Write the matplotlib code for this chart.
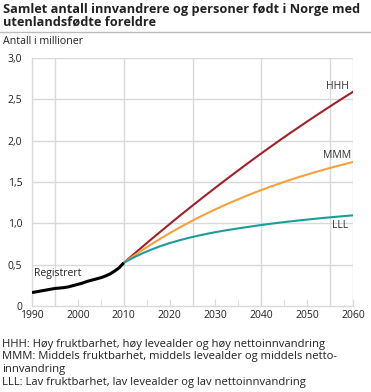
import matplotlib
matplotlib.use("Agg")
import matplotlib.pyplot as plt
from matplotlib.lines import Line2D

plt.rcParams['font.family'] = ['Open Sans', 'DejaVu Sans']

# Data
reg_years = [1990, 1991, 1992, 1993, 1994, 1995, 1996, 1997, 1998, 1999, 2000,
             2001, 2002, 2003, 2004, 2005, 2006, 2007, 2008, 2009, 2010]
reg_values = [0.16, 0.17, 0.18, 0.19, 0.20, 0.21, 0.215, 0.22, 0.23, 0.245, 0.26,
              0.275, 0.295, 0.31, 0.325, 0.34, 0.36, 0.385, 0.42, 0.46, 0.52]
proj_years = [2010, 2012, 2014, 2016, 2018, 2020, 2022, 2024, 2026, 2028, 2030,
              2032, 2034, 2036, 2038, 2040, 2042, 2044, 2046, 2048, 2050,
              2052, 2054, 2056, 2058, 2060]
hhh = [0.520, 0.616, 0.711, 0.805, 0.897, 0.989, 1.080, 1.169, 1.257, 1.344, 1.430,
       1.515, 1.599, 1.682, 1.764, 1.845, 1.924, 2.003, 2.080, 2.156, 2.231,
       2.305, 2.378, 2.450, 2.521, 2.590]
mmm = [0.520, 0.598, 0.673, 0.744, 0.813, 0.879, 0.942, 1.002, 1.060, 1.115, 1.168,
       1.219, 1.267, 1.314, 1.359, 1.401, 1.442, 1.481, 1.519, 1.555, 1.589,
       1.622, 1.654, 1.684, 1.713, 1.741]
lll = [0.520, 0.580, 0.633, 0.680, 0.722, 0.759, 0.791, 0.820, 0.846, 0.870, 0.892,
       0.911, 0.929, 0.946, 0.962, 0.978, 0.993, 1.007, 1.020, 1.032, 1.044,
       1.055, 1.066, 1.076, 1.086, 1.095]
x_ticklabels = ['1990', '2000', '2010', '2020', '2030', '2040', '2050', '2060']
y_ticklabels = ['0', '0,5', '1,0', '1,5', '2,0', '2,5', '3,0']

title = "Samlet antall innvandrere og personer født i Norge med\nutenlandsfødte foreldre"
subtitle = "Antall i millioner"
footnote_lines = ["HHH: Høy fruktbarhet, høy levealder og høy nettoinnvandring",
                  "MMM: Middels fruktbarhet, middels levealder og middels netto-",
                  "innvandring",
                  "LLL: Lav fruktbarhet, lav levealder og lav nettoinnvandring"]

W, H = 371, 392
fig = plt.figure(figsize=(W / 100, H / 100), dpi=100)
ax = fig.add_axes([32 / W, 1 - 305.8 / H, (353 - 32) / W, (305.8 - 58) / H])

grid_c = '#d9d9d9'
ax.set_xlim(1990, 2060)
ax.set_ylim(0, 3.0)
for yv in [0.5, 1.0, 1.5, 2.0, 2.5, 3.0]:
    ax.axhline(yv, color=grid_c, lw=1.0, zorder=0)
for xv in [1995, 2010, 2025, 2040, 2055, 2060]:
    ax.axvline(xv, color=grid_c, lw=1.0, zorder=0)
for s in ['top', 'right']:
    ax.spines[s].set_visible(False)
for s in ['left', 'bottom']:
    ax.spines[s].set_color(grid_c)
    ax.spines[s].set_linewidth(1.0)

ax.plot(proj_years, hhh, color='#a0212b', lw=1.5, zorder=3)
ax.plot(proj_years, mmm, color='#f7a03c', lw=1.5, zorder=3)
ax.plot(proj_years, lll, color='#1a9e9a', lw=1.5, zorder=3)
ax.plot(reg_years, reg_values, color='black', lw=2.2, zorder=4, solid_capstyle='butt')

ax.set_xticks(range(1990, 2061, 10))
ax.set_xticklabels(x_ticklabels)
ax.set_xticks(range(1995, 2061, 10), minor=True)
ax.set_yticks([0, 0.5, 1.0, 1.5, 2.0, 2.5, 3.0])
ax.set_yticklabels(y_ticklabels)
ax.tick_params(axis='x', which='both', direction='in', length=5, color=grid_c,
               labelsize=7.5, pad=3, labelcolor='#222222')
ax.tick_params(axis='y', length=0, labelsize=7.5, pad=7, labelcolor='#222222')

ax.text(2059.2, 2.66, 'HHH', ha='right', va='center', fontsize=7.5, color='#333333')
ax.text(2059.6, 1.82, 'MMM', ha='right', va='center', fontsize=7.5, color='#333333')
ax.text(2059.0, 0.97, 'LLL', ha='right', va='center', fontsize=7.5, color='#333333')
ax.text(1990.5, 0.39, 'Registrert', ha='left', va='center', fontsize=7.5, color='#222222')

fig.text(3 / W, 1 - 3 / H, title, ha='left', va='top', fontsize=9.2,
         fontweight='bold', color='#222222', linespacing=0.95)
fig.add_artist(Line2D([0, 1], [1 - 32 / H, 1 - 32 / H], color='#bbbbbb', lw=1.0,
                      transform=fig.transFigure))
fig.text(3 / W, 1 - 41.7 / H, subtitle, ha='left', va='center', fontsize=7.7,
         color='#222222')
for i, line in enumerate(footnote_lines):
    fig.text(2 / W, 1 - (347.0 + i * 12.5) / H, line, ha='left', va='baseline',
             fontsize=8.1, color='#222222')

fig.savefig('out.png', dpi=100)
